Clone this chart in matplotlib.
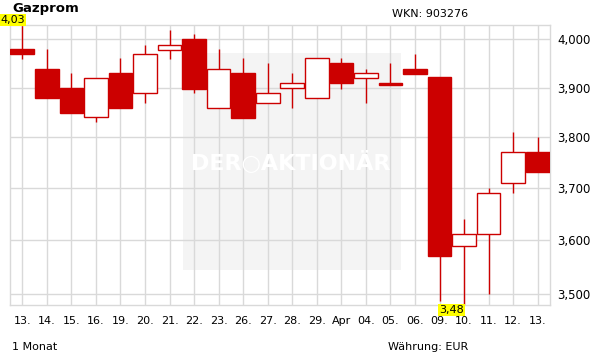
import matplotlib
matplotlib.use('Agg')
import matplotlib.pyplot as plt
import matplotlib.ticker as mticker
from matplotlib.patches import Rectangle
import numpy as np

# Tageskerzen Gazprom, 1 Monat (EUR)
dates = ['13.', '14.', '15.', '16.', '19.', '20.', '21.', '22.', '23.', '26.', '27.',
         '28.', '29.', 'Apr', '04.', '05.', '06.', '09.', '10.', '11.', '12.', '13.']
opens = [3.979, 3.939, 3.900, 3.840, 3.929, 3.889, 3.978, 4.000, 3.859, 3.929, 3.869,
         3.899, 3.878, 3.950, 3.920, 3.909, 3.939, 3.921, 3.590, 3.611, 3.709, 3.770]
closes = [3.970, 3.878, 3.848, 3.920, 3.858, 3.970, 3.989, 3.898, 3.939, 3.839, 3.889,
          3.909, 3.960, 3.909, 3.929, 3.906, 3.927, 3.570, 3.611, 3.690, 3.770, 3.731]
highs = [4.030, 3.979, 3.929, 3.920, 3.960, 3.989, 4.019, 4.011, 3.979, 3.960, 3.950,
         3.929, 3.960, 3.960, 3.939, 3.950, 3.970, 3.921, 3.640, 3.700, 3.810, 3.800]
lows = [3.958, 3.878, 3.848, 3.831, 3.858, 3.868, 3.958, 3.888, 3.859, 3.839, 3.869,
        3.858, 3.878, 3.898, 3.868, 3.906, 3.927, 3.488, 3.480, 3.500, 3.690, 3.731]
yticks = [3.5, 3.6, 3.7, 3.8, 3.9, 4.0]

red = '#cc0000'
grid = '#d9d9d9'


def de_num(v, digits):
    return f'{v:.{digits}f}'.replace('.', ',')


fig = plt.figure(figsize=(6.11, 3.64), dpi=100)
ax = fig.add_axes([10 / 611, 1 - 305 / 364, 540 / 611, 280 / 364])

x = np.arange(len(dates))
ax.set_yscale('log')
ax.set_xlim(-0.5, len(dates) - 0.5)
ax.set_ylim(min(lows), max(highs))

# Wasserzeichen-Hintergrund
ax.add_patch(Rectangle((0.320, 0.125), 0.404, 0.775, transform=ax.transAxes,
                       facecolor='#f4f4f4', edgecolor='none', zorder=0))
ax.text(0.52, 0.51, 'DER\u25CBAKTIONÄR', transform=ax.transAxes, ha='center', va='center',
        fontsize=16, fontweight='bold', color='white', zorder=1.5)

# Gitter
for xi in x:
    ax.axvline(xi, color=grid, lw=1, zorder=1)
for yt in yticks:
    ax.axhline(yt, color=grid, lw=1, zorder=1)

# Kerzen
w = 0.96
for i in range(len(dates)):
    ax.vlines(x[i], lows[i], highs[i], color=red, lw=1, zorder=2)
    lo = min(opens[i], closes[i])
    hi = max(opens[i], closes[i])
    if closes[i] >= opens[i]:
        ax.add_patch(Rectangle((x[i] - w / 2, lo), w, hi - lo, facecolor='white',
                               edgecolor=red, lw=1, zorder=3))
    else:
        ax.add_patch(Rectangle((x[i] - w / 2, lo), w, hi - lo, facecolor=red,
                               edgecolor=red, lw=1, zorder=3))

for s in ax.spines.values():
    s.set_color(grid)
    s.set_linewidth(1)

ax.yaxis.tick_right()
ax.yaxis.set_major_locator(mticker.FixedLocator(yticks))
ax.yaxis.set_minor_locator(mticker.NullLocator())
ax.yaxis.set_major_formatter(mticker.FuncFormatter(lambda v, p: de_num(v, 3)))
ax.tick_params(axis='y', length=0, pad=5, labelsize=8.5)
ax.set_xticks(x)
ax.set_xticklabels(dates)
ax.tick_params(axis='x', length=0, pad=8, labelsize=8)

# Hoch / Tief Markierung
imax = int(np.argmax(highs))
imin = int(np.argmin(lows))
box = dict(boxstyle='square,pad=0.1', facecolor='#ffff00', edgecolor='none')
ax.text(x[imax] + 0.1, 1.0, de_num(max(highs), 2), transform=ax.get_xaxis_transform(),
        ha='right', va='bottom', fontsize=8, bbox=box, zorder=5, clip_on=False)
ax.text(x[imin], 0.0, de_num(min(lows), 2), transform=ax.get_xaxis_transform(),
        ha='right', va='top', fontsize=8, bbox=box, zorder=5, clip_on=False)

fig.text(12 / 611, 1 - 12 / 364, 'Gazprom', fontsize=9.5, fontweight='bold', va='baseline')
fig.text(430 / 611, 1 - 14 / 364, 'WKN: 903276', fontsize=8, ha='center', va='center')
fig.text(12 / 611, 1 - 347 / 364, '1 Monat', fontsize=8, va='center')
fig.text(428 / 611, 1 - 347 / 364, 'Währung: EUR', fontsize=8, ha='center', va='center')

fig.savefig('out.png', dpi=100)
